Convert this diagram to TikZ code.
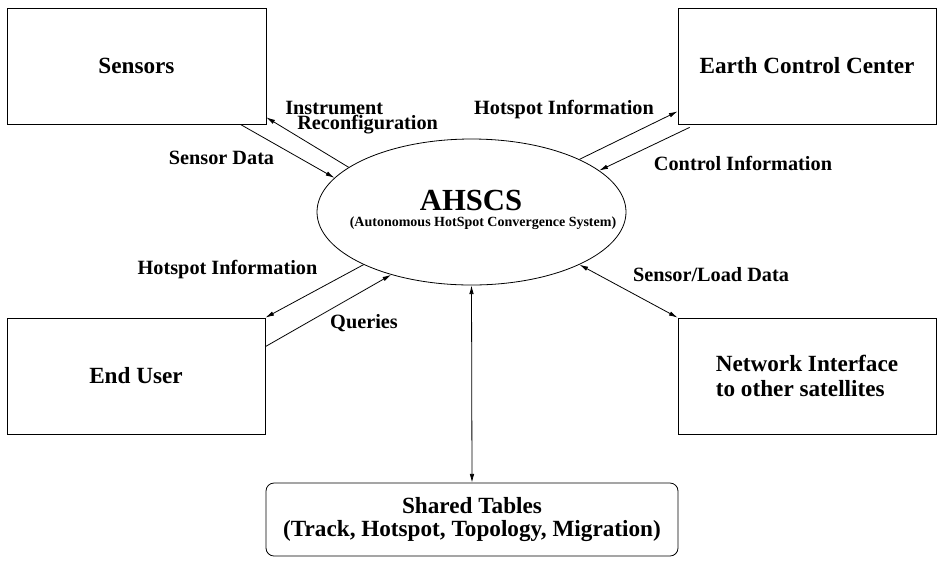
\documentclass[tikz,border=0pt]{standalone}
\usepackage{fontspec}
\setmainfont{Liberation Serif}
\usetikzlibrary{shapes.geometric,arrows.meta,calc}
\begin{document}
\begin{tikzpicture}[x=0.75pt,y=-0.75pt,
  box/.style={draw, line width=0.6pt, inner sep=0pt, minimum width=193.5pt, minimum height=87pt,
    font=\fontsize{17.4}{19}\selectfont\bfseries, align=center},
  lbl/.style={inner sep=0pt, font=\fontsize{15.2}{16}\selectfont\bfseries},
  arr/.style={line width=0.6pt, -{Latex[length=6.5pt,width=3.4pt]}},
  darr/.style={line width=0.6pt, {Latex[length=6.5pt,width=3.4pt]}-{Latex[length=6.5pt,width=3.4pt]}}]
\useasboundingbox (0,0) rectangle (938,562);
% boxes
\node[box, minimum width=194.25pt] (sensors) at (136.5,66) {Sensors};
\node[box] (earth) at (807,66) {Earth Control Center};
\node[box] (enduser) at (136,376) {End User};
\node[box, align=left] (network) at (807,376) {Network Interface\\to other satellites};
\node[box, minimum width=309pt, minimum height=54.75pt, rounded corners=6pt,
  font=\fontsize{17.4}{17.5}\selectfont\bfseries] (shared) at (472,519.5) {Shared Tables\\(Track, Hotspot, Topology, Migration)};
% ellipse
\node[draw, ellipse, line width=0.6pt, inner sep=0pt, minimum width=231.75pt, minimum height=109.5pt] (ell) at (471.5,212) {};
\node[inner sep=0pt, font=\fontsize{23}{25}\selectfont\bfseries] (title) at (471,200) {AHSCS};
\node[inner sep=0pt, font=\fontsize{10.5}{12}\selectfont\bfseries] (subtitle) at (483,223) {(Autonomous HotSpot Convergence System)};
% connectors
\draw[arr] (ell.160) -- ($(sensors.south east)+(0,-7)$);
\draw[arr] ($(sensors.south east)+(-26,0)$) -- (ell.166);
\draw[arr] (ell.26) -- ($(earth.south west)+(0,-13)$);
\draw[arr] ($(earth.south west)+(12,3)$) -- (ell.18);
\draw[arr] (ell.206) -- (enduser.north east);
\draw[arr] ($(enduser.north east)+(0,29)$) -- (ell.218);
\draw[darr] (ell.334) -- (network.north west);
\draw[darr] (ell.south) -- (shared.north);
% labels
\node[lbl, anchor=west] (l1) at (285,108) {Instrument};
\node[lbl, anchor=west] (l2) at (297,125) {Reconfiguration};
\node[lbl] (l3) at (221.5,158) {Sensor Data};
\node[lbl] (l4) at (564,110) {Hotspot Information};
\node[lbl] (l5) at (743,163) {Control Information};
\node[lbl] (l6) at (227.5,270) {Hotspot Information};
\node[lbl] (l7) at (364,323) {Queries};
\node[lbl] (l8) at (711,275) {Sensor/Load Data};
\end{tikzpicture}
\end{document}
